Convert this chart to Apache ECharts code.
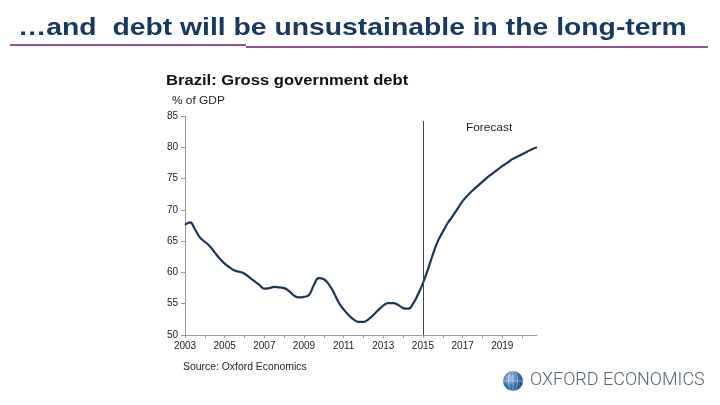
<!DOCTYPE html>
<html>
<head>
<meta charset="utf-8">
<script src="https://cdn.jsdelivr.net/npm/echarts@6/dist/echarts.min.js"></script>
<style>
html,body{margin:0;padding:0;background:#fff;}
#c{width:720px;height:405px;}
</style>
</head>
<body>
<div id="c"></div>
<script>
// Years and quarters for the category axis
const years = [2003,2004,2005,2006,2007,2008,2009,2010,2011,2012,2013,2014,2015,2016,2017,2018,2019,2020];
const quarters = ['Q1','Q2','Q3','Q4'];
// Gross government debt, % of GDP (quarterly)
const debt = [
  67.6, 68.0, 66.9, 65.6,
  64.9, 64.2, 63.2, 62.2,
  61.4, 60.8, 60.3, 60.1,
  59.8, 59.2, 58.6, 58.0,
  57.4, 57.5, 57.7, 57.6,
  57.5, 57.0, 56.3, 56.0,
  56.1, 56.4, 58.0, 59.1,
  58.9, 58.1, 56.8, 55.2,
  54.1, 53.2, 52.5, 52.1,
  52.1, 52.5, 53.2, 54.0,
  54.7, 55.1, 55.1, 54.8,
  54.3, 54.2, 55.0, 56.5,
  58.3, 60.5, 62.9, 65.0,
  66.5, 67.9, 69.0, 70.2,
  71.4, 72.3, 73.1, 73.8,
  74.5, 75.2, 75.8, 76.4,
  77.0, 77.5, 78.1, 78.5,
  78.9, 79.3, 79.7, 80.0
];
const forecastStart = '2015 Q1';
const yTicks = [50,55,60,65,70,75,80,85];

const categories = [];
years.forEach(y => quarters.forEach(q => categories.push(y + ' ' + q)));

const chart = echarts.init(document.getElementById('c'), null, {renderer:'canvas'});
const font = 'Liberation Sans, Arial, sans-serif';
function txt(x, y, s, f, fill, sx){
  return {type:'text', x:x, y:y, scaleX:sx, originX:0, originY:0,
    style:{text:s, font:f, fill:fill, textVerticalAlign:'top', textAlign:'left'}};
}
chart.setOption({
  animation:false,
  backgroundColor:'#fff',
  grid:{left:185, right:183, top:116, bottom:70},
  xAxis:{
    type:'category',
    data:categories,
    boundaryGap:false,
    axisLine:{lineStyle:{color:'#9a9a9a', width:1}},
    axisTick:{interval:3, length:3, lineStyle:{color:'#9a9a9a'}},
    axisLabel:{interval:7, margin:6, color:'#222', fontSize:10, fontFamily:font,
      formatter: v => v.slice(0,4)},
    splitLine:{show:false}
  },
  yAxis:{
    type:'value',
    min:yTicks[0], max:yTicks[yTicks.length-1], interval:5,
    axisLine:{show:true, lineStyle:{color:'#9a9a9a', width:1}},
    axisTick:{show:true, length:4, lineStyle:{color:'#9a9a9a'}},
    axisLabel:{margin:7, color:'#222', fontSize:10, fontFamily:font},
    splitLine:{show:false}
  },
  series:[{
    type:'line',
    data:debt,
    smooth:0.5,
    showSymbol:false,
    lineStyle:{color:'#1c3658', width:2.2},
    markLine:{
      silent:true,
      symbol:'none',
      label:{show:false},
      lineStyle:{color:'#444', width:1, type:'solid'},
      data:[[{coord:[forecastStart, 84.2]},{coord:[forecastStart, 50]}]]
    }
  }],
  graphic:[
    txt(18, 16, '\u2026and  debt will be unsustainable in the long-term', 'bold 24px Liberation Sans, Arial, sans-serif', '#163a63', 1.18),
    {type:'rect', shape:{x:10, y:44, width:236, height:2}, style:{fill:'#93519a'}},
    {type:'rect', shape:{x:246, y:46, width:462, height:2}, style:{fill:'#93519a'}},
    txt(166, 73, 'Brazil: Gross government debt', 'bold 15px Liberation Sans, Arial, sans-serif', '#111', 1.105),
    txt(172, 95, '% of GDP', '11px Liberation Sans, Arial, sans-serif', '#222', 1.08),
    txt(466, 122, 'Forecast', '11px Liberation Sans, Arial, sans-serif', '#222', 1.08),
    txt(183, 362, 'Source: Oxford Economics', '10px Liberation Sans, Arial, sans-serif', '#222', 1.04),
    {type:'circle', shape:{cx:513, cy:381, r:10}, style:{fill:new echarts.graphic.RadialGradient(0.35,0.35,0.8,[{offset:0,color:'#a9c8e8'},{offset:0.5,color:'#3d73b0'},{offset:1,color:'#123e74'}])}},
    {type:'ellipse', shape:{cx:513, cy:381, rx:4.5, ry:10}, style:{fill:'none', stroke:'rgba(255,255,255,0.6)', lineWidth:0.7}},
    {type:'line', shape:{x1:503, y1:381, x2:523, y2:381}, style:{stroke:'rgba(255,255,255,0.6)', lineWidth:0.7}},
    {type:'line', shape:{x1:513, y1:371, x2:513, y2:391}, style:{stroke:'rgba(255,255,255,0.6)', lineWidth:0.7}},
    txt(530, 371, 'OXFORD ECONOMICS', '300 18px Roboto, sans-serif', '#55636f', 1.0)
  ]
});
</script>
</body>
</html>
